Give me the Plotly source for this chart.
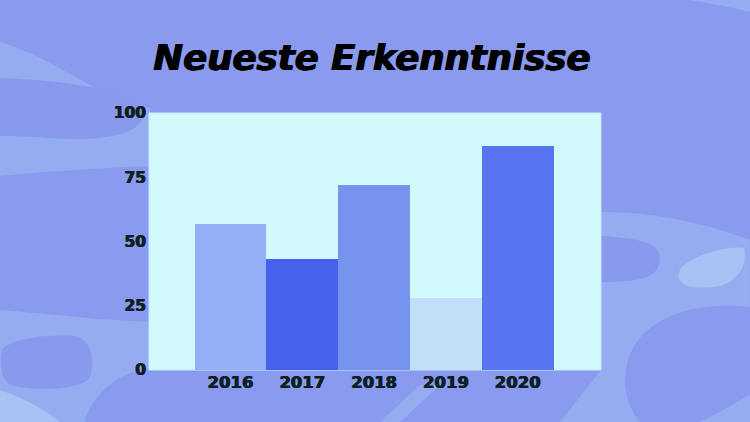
import plotly.graph_objects as go

# ---- data ----
years = ["2016", "2017", "2018", "2019", "2020"]
values = [57, 43, 72, 28, 87]
bar_colors = ["#94b0f7", "#4661ec", "#7594f0", "#bfe0f8", "#5775f0"]
y_ticks = [0, 25, 50, 75, 100]
title_text = "Neueste Erkenntnisse"

W, H = 750, 422
ML, MR, MT, MB = 149, 149, 113, 52
PW, PH = W - ML - MR, H - MT - MB


def P(px, py):
    return (px - ML) / PW, (H - MB - py) / PH


def path(pts_cmds):
    out = []
    for item in pts_cmds:
        if isinstance(item, str):
            out.append(item)
        else:
            x, y = P(*item)
            out.append(f"{x:.4f},{y:.4f}")
    return " ".join(out)


band = "#95acf0"
dark = "#8899ee"
light = "#a9c1f5"

deco = [
    (band, ["M", (0, 42), "C", (60, 60), (100, 100), (150, 108), "L", (150, 166),
            "C", (100, 168), (40, 172), (0, 176), "Z"]),
    (dark, ["M", (0, 78), "C", (60, 80), (140, 90), (143, 112), "C", (146, 135), (100, 142),
            (50, 138), "C", (20, 136), (0, 136), (0, 136), "Z"]),
    (band, ["M", (690, 0), "C", (715, 4), (735, 8), (750, 12), "L", (750, 0), "Z"]),
    (band, ["M", (601, 212), "C", (660, 212), (710, 225), (750, 240), "L", (750, 307),
            "C", (690, 300), (640, 320), (628, 360), "C", (620, 390), (630, 410), (640, 422),
            "L", (560, 422), "L", (601, 370), "Z"]),
    (dark, ["M", (601, 236), "C", (630, 238), (660, 240), (660, 258), "C", (660, 278), (640, 282),
            (601, 282), "Z"]),
    (light, ["M", (680, 270), "C", (690, 255), (730, 245), (744, 248), "C", (748, 262), (740, 280),
             (720, 286), "C", (700, 290), (672, 288), (680, 270), "Z"]),
    (band, ["M", (700, 422), "C", (725, 410), (740, 400), (750, 395), "L", (750, 422), "Z"]),
    (band, ["M", (0, 310), "C", (50, 314), (100, 320), (149, 322), "L", (149, 368),
            "C", (110, 375), (90, 400), (85, 422), "L", (0, 422), "Z"]),
    (dark, ["M", (2, 350), "C", (10, 338), (50, 334), (75, 336), "C", (95, 340), (95, 370),
            (88, 380), "C", (70, 392), (30, 390), (10, 385), "C", (0, 378), (0, 360), (2, 350), "Z"]),
    (light, ["M", (0, 390), "C", (25, 398), (45, 410), (60, 422), "L", (0, 422), "Z"]),
    (band, ["M", (380, 422), "L", (420, 385), "L", (440, 385), "L", (400, 422), "Z"]),
]

shapes = []
for color, cmds in deco:
    shapes.append(dict(type="path", xref="paper", yref="paper", path=path(cmds),
                       fillcolor=color, line=dict(width=0), layer="below"))
shapes.append(dict(type="rect", xref="paper", yref="paper", x0=0, y0=0, x1=1, y1=1,
                   fillcolor="#d2fafc", line=dict(color="#c2ecfa", width=1), layer="below"))

fig = go.Figure(go.Bar(
    x=years, y=values, marker=dict(color=bar_colors, line=dict(width=0)), width=1.0,
    hoverinfo="skip",
))

heavy = "0.5px 0 0 #0d1f22, -0.5px 0 0 #0d1f22"
fig.update_layout(
    width=W, height=H,
    margin=dict(l=ML, r=MR, t=MT, b=MB),
    paper_bgcolor="#8a9bef",
    plot_bgcolor="rgba(0,0,0,0)",
    shapes=shapes,
    showlegend=False,
    bargap=0,
    title=dict(text=title_text, x=0.496, xanchor="center", y=1 - 58 / H, yanchor="middle",
               font=dict(family="DejaVu Sans", size=35.5, color="#000000",
                         weight="bold", style="italic",
                         shadow="0.7px 0 0 #000, -0.7px 0 0 #000")),
    font=dict(family="DejaVu Sans", color="#0d1f22"),
)
fig.update_xaxes(range=[-1.136, 5.16], showgrid=False, showline=False, zeroline=False,
                 ticks="", tickfont=dict(size=16.5, weight="bold", color="#0d1f22", shadow=heavy),
                 ticklabelstandoff=0)
fig.update_yaxes(range=[0, 100], tickvals=y_ticks, showgrid=False, showline=False,
                 zeroline=False, ticks="",
                 tickfont=dict(size=15.5, weight="bold", color="#0d1f22", shadow=heavy),
                 ticklabelstandoff=2)

fig.write_html("out.html", config={"displayModeBar": False},
               post_script="document.body.style.margin='0';")
